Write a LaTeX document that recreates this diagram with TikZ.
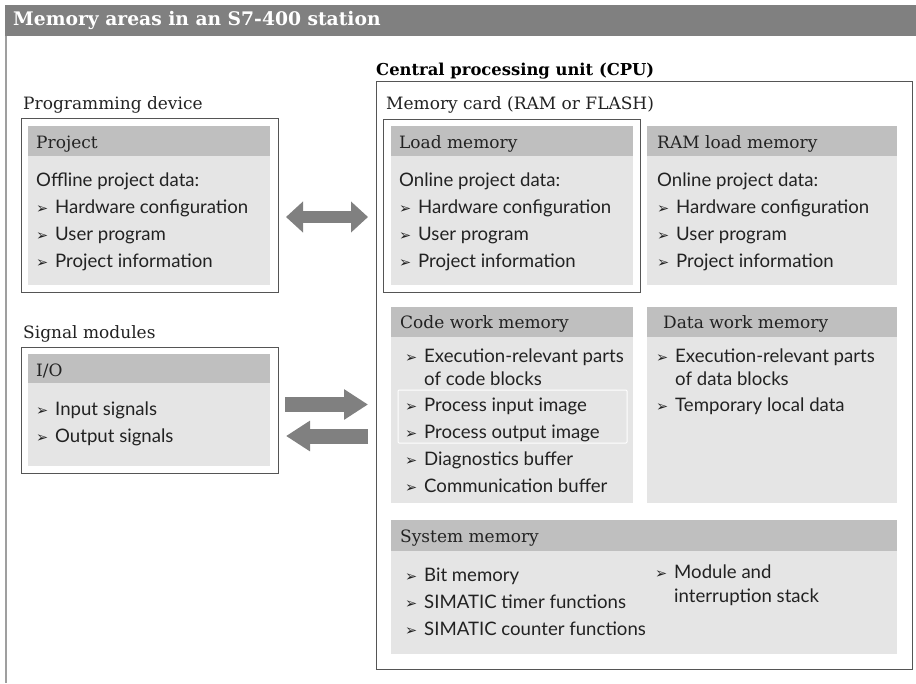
\documentclass[tikz,border=0pt]{standalone}
\usepackage{fontspec}
\usetikzlibrary{arrows.meta}
\setmainfont{DejaVu Serif}
\newfontfamily\sansf{Lato}
\newfontfamily\bulf{DejaVu Sans}
\definecolor{titlegray}{HTML}{808080}
\definecolor{hdrgray}{HTML}{BFBFBF}
\definecolor{bodygray}{HTML}{E5E5E5}
\definecolor{framegray}{HTML}{555555}
\definecolor{txt}{HTML}{222222}
\newcommand{\bul}{\makebox[19pt][l]{\raisebox{0.3pt}{\scalebox{0.78}{\bulf ➢}}}}
\begin{document}
\begin{tikzpicture}[x=1pt,y=-1pt,
  frame/.style={draw=framegray, line width=1pt, fill=white, inner sep=0, outer sep=0, anchor=north west},
  body/.style={fill=bodygray, inner sep=0, outer sep=0, anchor=north west},
  hdr/.style={fill=hdrgray, inner sep=0, outer sep=0, anchor=north west},
  sertxt/.style={anchor=west, inner sep=0, text=txt, font=\fontsize{17}{20}\selectfont, text height=12pt, text depth=3.5pt, yshift=-2pt},
  boldtxt/.style={anchor=west, inner sep=0, text=black, font=\bfseries\fontsize{16.4}{19}\selectfont, text height=12pt, text depth=3.5pt, yshift=-1.5pt},
  itm/.style={anchor=west, inner sep=0, text=txt, font=\sansf\fontsize{18.6}{22}\selectfont, text height=12pt, text depth=3.5pt, yshift=-2.5pt},
  bigarrow/.style={draw=titlegray, line width=15pt, -{Triangle[length=24pt,width=29pt]}},
  dblarrow/.style={draw=titlegray, line width=12pt, {Triangle[length=17pt,width=30pt]}-{Triangle[length=17pt,width=30pt]}}
]
\useasboundingbox (0,0) rectangle (916,683);
% title
\fill[titlegray] (5,5) rectangle (916,36);
\draw[line width=1.5pt, draw=gray!75] (6,36) -- (6,683);
\node[anchor=west, inner sep=0, text=white, font=\bfseries\fontsize{18.7}{22}\selectfont, text height=13pt, text depth=4pt] (title) at (13,21) {Memory areas in an S7-400 station};

% Programming device
\node[sertxt] (pglbl) at (23,103) {Programming device};
\node[frame, minimum width=257pt, minimum height=174pt] (projframe) at (21,118) {};
\node[body, minimum width=242pt, minimum height=159pt] (projbody) at (28,126) {};
\node[hdr, minimum width=242pt, minimum height=30pt] (projhdr) at (28,126) {};
\node[sertxt] (projt) at (36,142) {Project};
\node[itm] (projo) at (36,180) {Offline project data:};
\node[itm] (proj1) at (36,207) {\bul Hardware configuration};
\node[itm] (proj2) at (36,234) {\bul User program};
\node[itm] (proj3) at (36,261) {\bul Project information};

% Signal modules
\node[sertxt] (smlbl) at (23,332) {Signal modules};
\node[frame, minimum width=257pt, minimum height=126pt] (ioframe) at (21,347) {};
\node[body, minimum width=242pt, minimum height=112pt] (iobody) at (28,354) {};
\node[hdr, minimum width=242pt, minimum height=29pt] (iohdr) at (28,354) {};
\node[sertxt] (iot) at (36,370) {I/O};
\node[itm] (io1) at (36,409) {\bul Input signals};
\node[itm] (io2) at (36,436) {\bul Output signals};

% CPU
\node[boldtxt] (cpulbl) at (376,70) {Central processing unit (CPU)};
\node[frame, minimum width=536pt, minimum height=588pt] (cpuframe) at (376,81) {};
\node[sertxt] (mclbl) at (386,103) {Memory card (RAM or FLASH)};

% Load memory
\node[frame, minimum width=257pt, minimum height=173pt] (loadframe) at (383,119) {};
\node[body, minimum width=242pt, minimum height=159pt] (loadbody) at (391,126) {};
\node[hdr, minimum width=242pt, minimum height=30pt] (loadhdr) at (391,126) {};
\node[sertxt] (loadt) at (399,142) {Load memory};
\node[itm] (loado) at (399,180) {Online project data:};
\node[itm] (load1) at (399,207) {\bul Hardware configuration};
\node[itm] (load2) at (399,234) {\bul User program};
\node[itm] (load3) at (399,261) {\bul Project information};

% RAM load memory
\node[body, minimum width=250pt, minimum height=159pt] (rambody) at (647,126) {};
\node[hdr, minimum width=250pt, minimum height=30pt] (ramhdr) at (647,126) {};
\node[sertxt] (ramt) at (657,142) {RAM load memory};
\node[itm] (ramo) at (657,180) {Online project data:};
\node[itm] (ram1) at (657,207) {\bul Hardware configuration};
\node[itm] (ram2) at (657,234) {\bul User program};
\node[itm] (ram3) at (657,261) {\bul Project information};

% Code work memory
\node[body, minimum width=242pt, minimum height=196pt] (codebody) at (391,307) {};
\node[hdr, minimum width=242pt, minimum height=30pt] (codehdr) at (391,307) {};
\node[draw=white, line width=1pt, rounded corners=1pt, inner sep=0, outer sep=0, anchor=north west, minimum width=229pt, minimum height=53pt] (pimg) at (398,390) {};
\node[sertxt] (codet) at (400,322) {Code work memory};
\node[itm] (code1) at (405,356) {\bul Execution-relevant parts};
\node[itm] (code1b) at (424,379) {of code blocks};
\node[itm] (code2) at (405,405) {\bul Process input image};
\node[itm] (code3) at (405,432) {\bul Process output image};
\node[itm] (code4) at (405,459) {\bul Diagnostics buffer};
\node[itm] (code5) at (405,486) {\bul Communication buffer};

% Data work memory
\node[body, minimum width=250pt, minimum height=196pt] (databody) at (647,307) {};
\node[hdr, minimum width=250pt, minimum height=30pt] (datahdr) at (647,307) {};
\node[sertxt] (datat) at (663,322) {Data work memory};
\node[itm] (data1) at (656,356) {\bul Execution-relevant parts};
\node[itm] (data1b) at (675,379) {of data blocks};
\node[itm] (data2) at (656,405) {\bul Temporary local data};

% System memory
\node[body, minimum width=506pt, minimum height=134pt] (sysbody) at (391,520) {};
\node[hdr, minimum width=506pt, minimum height=31pt] (syshdr) at (391,520) {};
\node[sertxt] (syst) at (400,536) {System memory};
\node[itm] (sys1) at (405,575) {\bul Bit memory};
\node[itm] (sys2) at (405,602) {\bul SIMATIC timer functions};
\node[itm] (sys3) at (405,629) {\bul SIMATIC counter functions};
\node[itm] (sys4) at (655,572) {\bul Module and};
\node[itm] (sys4b) at (674,596) {interruption stack};

% arrows
\draw[dblarrow] ([shift={(8,12)}]projframe.east) -- ([shift={(-15,11.5)}]loadframe.west);
\draw[bigarrow] ([shift={(7,-5.5)}]ioframe.east) -- ([shift={(-30,-12)}]pimg.west);
\draw[bigarrow] ([shift={(-30,19.5)}]pimg.west) -- ([shift={(8,26)}]ioframe.east);
\end{tikzpicture}
\end{document}
